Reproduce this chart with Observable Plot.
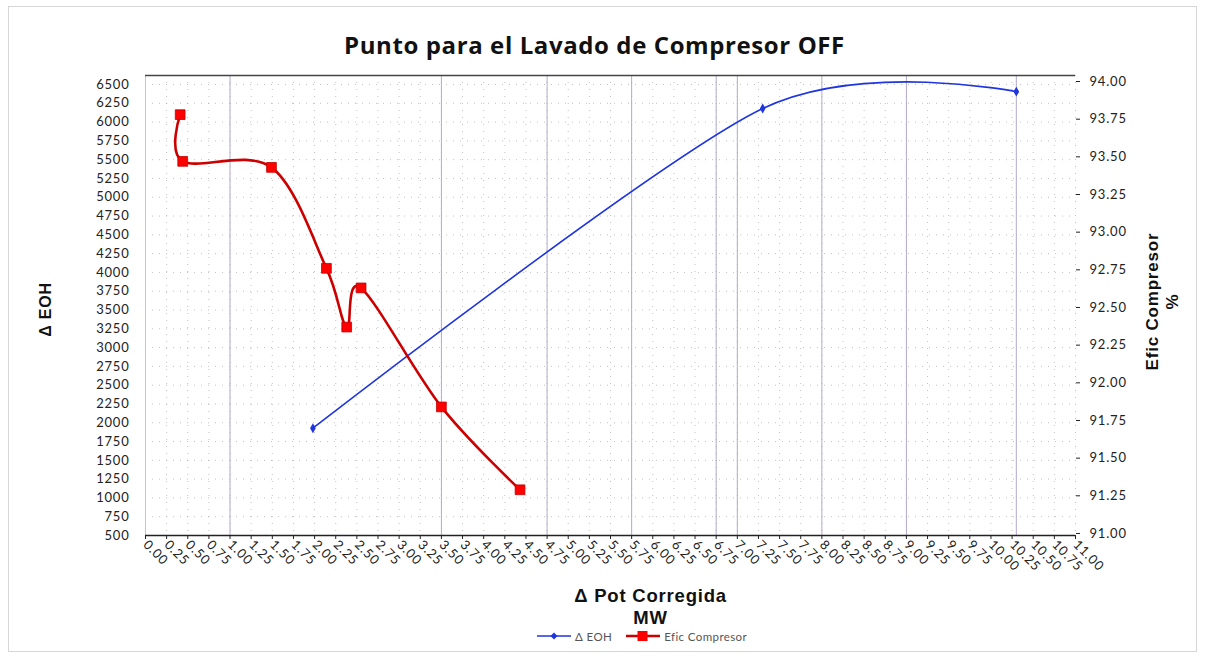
<!DOCTYPE html>
<html><head><meta charset="utf-8">
<script src="https://cdn.jsdelivr.net/npm/d3@7"></script>
<script src="https://cdn.jsdelivr.net/npm/@observablehq/plot@0.6"></script>
<style>
body{margin:0;background:#fff;}
#wrap{position:relative;width:1205px;height:658px;overflow:hidden;background:#fff;}
#frame{position:absolute;left:8px;top:6px;width:1187px;height:644px;border:1px solid #d6d6d6;pointer-events:none;}
#title{height:65px;box-sizing:border-box;padding-top:30px;padding-right:16px;text-align:center;font:bold 24px "Open Sans",sans-serif;letter-spacing:0.6px;color:#111;line-height:30px;}
#chart{height:565px;}
#legend{position:absolute;left:537px;top:628px;height:16px;display:flex;align-items:center;font:11.5px "Lato",sans-serif;letter-spacing:0.4px;color:#555;}
#legend span{margin-right:14px;margin-left:2px;}
</style>
</head><body>
<div id="wrap">
<div id="title">Punto para el Lavado de Compresor OFF</div>
<div id="chart"></div>
<div id="legend"></div>
<div id="frame"></div>
</div>
<script>
// ---- data ----
const eohX = [1.98, 7.30, 10.30];
const eohY = [1927, 6180, 6405];
const eficX = [0.41, 0.44, 1.49, 2.14, 2.38, 2.55, 3.50, 4.43];
const eficY = [93.78, 93.47, 93.43, 92.76, 92.37, 92.63, 91.84, 91.29];
const xTicks = [0,0.25,0.5,0.75,1,1.25,1.5,1.75,2,2.25,2.5,2.75,3,3.25,3.5,3.75,4,4.25,4.5,4.75,5,5.25,5.5,5.75,6,6.25,6.5,6.75,7,7.25,7.5,7.75,8,8.25,8.5,8.75,9,9.25,9.5,9.75,10,10.25,10.5,10.75,11];
const leftTicks = [500,750,1000,1250,1500,1750,2000,2250,2500,2750,3000,3250,3500,3750,4000,4250,4500,4750,5000,5250,5500,5750,6000,6250,6500];
const rightTicks = [91.00,91.25,91.50,91.75,92.00,92.25,92.50,92.75,93.00,93.25,93.50,93.75,94.00];
const gridX = [1, 3.5, 4.75, 5.75, 6.75, 7, 8, 9, 10.3];
const seriesNames = ["\u0394 EOH", "Efic Compresor"];
const colors = ["#1f35e0", "#e00000"];

// right axis (Efic %) mapped onto left (EOH) scale
const rLo = 91, rHi = 94, lLo = 527, lHi = 6540;
const toLeft = v => lLo + (v - rLo) * (lHi - lLo) / (rHi - rLo);
const fromLeft = v => rLo + (v - lLo) * (rHi - rLo) / (lHi - lLo);

const eoh = eohX.map((x, i) => ({x, y: eohY[i]}));
const efic = eficX.map((x, i) => ({x, y: toLeft(eficY[i])}));

const bold = "Liberation Sans, Arial, sans-serif";
const plot = Plot.plot({
  width: 1205, height: 565,
  marginLeft: 145, marginRight: 130, marginTop: 10, marginBottom: 95,
  style: {fontFamily: "Lato, sans-serif", fontSize: "13px", color: "#222", background: "transparent", letterSpacing: "0.8px"},
  x: {domain: [0, 11]},
  y: {domain: [500, 6620]},
  marks: [
    Plot.ruleY(leftTicks, {stroke: "#999", strokeOpacity: 0.6, strokeDasharray: "1,6"}),
    Plot.ruleX(xTicks, {stroke: "#999", strokeOpacity: 0.6, strokeDasharray: "1,6"}),
    Plot.ruleX(gridX, {stroke: "#b3aacb", strokeWidth: 1}),
    Plot.ruleX([0], {stroke: "#c9c0e3", strokeWidth: 1}),
    Plot.ruleY([6620], {stroke: "#444", strokeWidth: 1.3}),
    Plot.ruleY([500], {stroke: "#222", strokeWidth: 1.3}),
    Plot.axisX({ticks: xTicks, tickFormat: d => d.toFixed(2), tickRotate: 45, tickSize: 4, tickPadding: 3, label: null, fontSize: 13}),
    Plot.axisY({ticks: leftTicks, tickFormat: d => String(d), tickSize: 0, tickPadding: 16, label: null, fontSize: 13}),
    Plot.axisY(rightTicks.map(toLeft), {anchor: "right", tickSize: 4, tickPadding: 10, tickFormat: d => fromLeft(d).toFixed(2), label: null, fontSize: 13}),
    Plot.line(eoh, {x: "x", y: "y", stroke: colors[0], strokeWidth: 1.6, curve: "cardinal", tension: 0.15}),
    Plot.dot(eoh, {x: "x", y: "y", symbol: "diamond", r: 3, fill: colors[0]}),
    Plot.line(efic, {x: "x", y: "y", stroke: "#cc0000", strokeWidth: 2.6, curve: "cardinal"}),
    Plot.dot(efic, {x: "x", y: "y", symbol: "square", r: 5.5, fill: "#ff0000", stroke: "#c00000", strokeWidth: 0.8}),
    Plot.text(["\u0394 Pot Corregida\nMW"], {frameAnchor: "bottom", lineAnchor: "top", textAnchor: "middle", dy: 51, dx: 40, fontWeight: "bold", fontSize: 18.5, fontFamily: bold, lineHeight: 1.2, fill: "#111", style: {letterSpacing: "0px"}}),
    Plot.text(["\u0394 EOH"], {frameAnchor: "left", textAnchor: "middle", dx: -100, dy: 4, rotate: -90, fontWeight: "bold", fontSize: 16, fontFamily: bold, fill: "#111"}),
    Plot.text(["Efic Compresor\n%"], {frameAnchor: "right", textAnchor: "middle", dx: 86, dy: -4, rotate: -90, fontWeight: "bold", fontSize: 17, fontFamily: bold, lineHeight: 1.15, fill: "#111"})
  ]
});
document.getElementById("chart").appendChild(plot);

// legend
const lg = document.getElementById("legend");
const sw = [
  `<svg width="36" height="12"><line x1="0" y1="6" x2="34" y2="6" stroke="${colors[0]}" stroke-width="1.6"/><path d="M17,2.5 L20.5,6 L17,9.5 L13.5,6Z" fill="${colors[0]}"/></svg>`,
  `<svg width="36" height="12"><line x1="0" y1="6" x2="34" y2="6" stroke="#cc0000" stroke-width="2.6"/><rect x="11.5" y="1" width="10" height="10" fill="#ff0000"/></svg>`
];
lg.innerHTML = seriesNames.map((n, i) => `${sw[i]}<span>${n}</span>`).join("");
</script>
</body></html>
